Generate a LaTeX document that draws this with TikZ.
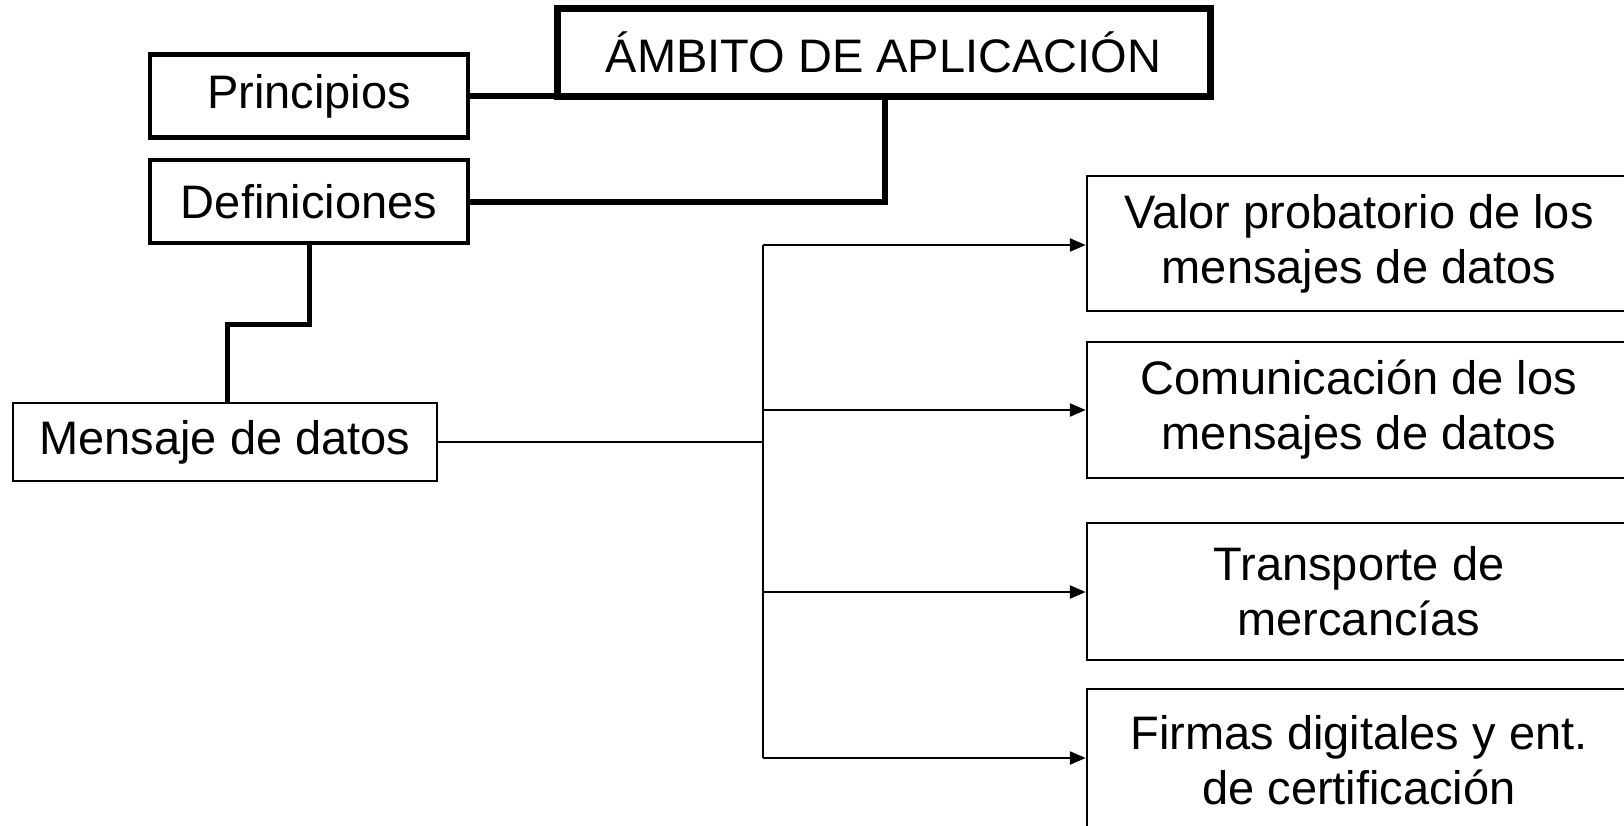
\documentclass[tikz,border=0pt]{standalone}
\usepackage{fontspec}
\setmainfont{Liberation Sans}
\usetikzlibrary{arrows.meta}
\begin{document}
\begin{tikzpicture}[x=1pt,y=-1pt,
  every node/.style={font=\fontsize{47}{55}\selectfont, inner sep=0pt, align=center},
  thickbox/.style={draw, line width=4.5pt},
  topbox/.style={draw, line width=7pt},
  thinbox/.style={draw, line width=2.5pt},
  thickline/.style={line width=6pt},
  midline/.style={line width=5pt},
  thinline/.style={line width=2.5pt},
  arr/.style={thinline, -{Triangle[length=16pt,width=13pt]}}
]
\useasboundingbox (0,0) rectangle (1624,825);
\node[topbox, minimum width=653pt, minimum height=88pt] (amb) at (883.5,52) {ÁMBITO DE APLICACIÓN};
\node[thickbox, minimum width=318pt, minimum height=83pt] (pri) at (309,96) {Principios};
\node[thickbox, minimum width=318pt, minimum height=83pt] (def) at (309,201.5) {Definiciones};
\node[thinbox, minimum width=424pt, minimum height=78pt] (men) at (225,442) {Mensaje de datos};
\node[thinbox, minimum width=544pt, minimum height=135pt] (b1) at (1359,243.5) {Valor probatorio de los\\mensajes de datos};
\node[thinbox, minimum width=544pt, minimum height=136pt] (b2) at (1359,410) {Comunicación de los\\mensajes de datos};
\node[thinbox, minimum width=544pt, minimum height=137pt] (b3) at (1359,591.5) {Transporte de\\mercancías};
\node[thinbox, minimum width=544pt, minimum height=142pt] (b4) at (1359,760) {Firmas digitales y ent.\\de certificación};
\coordinate (tr) at (763,442);
\coordinate (ttop) at (763,245);
\coordinate (tbot) at (763,758);
\draw[thickline] (pri.east) -- (pri.east -| amb.south west);
\draw[thickline] (def.east) -- (def.east -| 885,0) -- (885,96);
\draw[midline] (def.south) -- (309,324) -- (227,324) -- (227,404);
\draw[thinline] (men.east) -- (tr);
\draw[thinline] (ttop) -- (tbot);
\draw[arr] (ttop) -- (b1.west |- ttop);
\draw[arr] (763,410) -- (b2.west |- 0,410);
\draw[arr] (763,592) -- (b3.west |- 0,592);
\draw[arr] (tbot) -- (b4.west |- tbot);
\end{tikzpicture}
\end{document}
